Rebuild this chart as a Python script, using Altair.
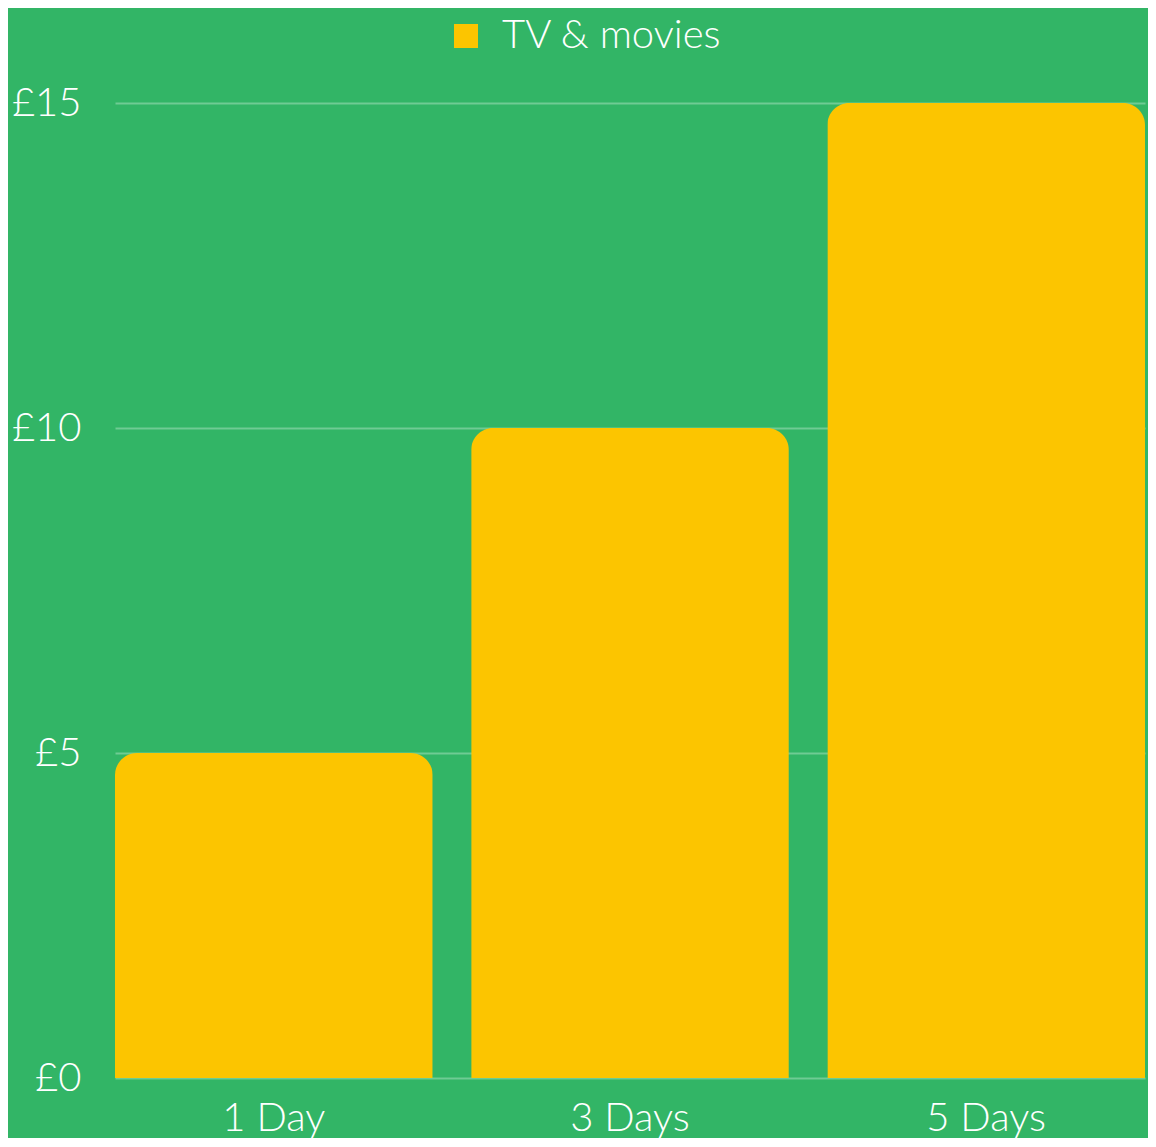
import altair as alt
import pandas as pd

categories = ["1 Day", "3 Days", "5 Days"]
values = [5, 10, 15]
series = ["TV & movies"] * 3
y_ticks = [0, 5, 10, 15]

df = pd.DataFrame({"period": categories, "price": values, "series": series})

FONT = "Lato"

chart = alt.Chart(df).mark_bar(
    cornerRadiusTopLeft=22, cornerRadiusTopRight=22
).encode(
    x=alt.X("period:N", sort=categories,
            scale=alt.Scale(paddingInner=0.108, paddingOuter=0),
            axis=alt.Axis(title=None, labelAngle=0, domain=False, ticks=False,
                          labelFontSize=40, labelColor="white", labelFont=FONT,
                          labelFontWeight=300, labelBaseline="alphabetic",
                          labelPadding=52, grid=False)),
    y=alt.Y("price:Q", scale=alt.Scale(domain=[0, 15], nice=False),
            axis=alt.Axis(title=None, values=y_ticks, domain=False, ticks=False,
                          labelExpr="'£' + datum.value",
                          labelFontSize=40, labelColor="white", labelFont=FONT,
                          labelFontWeight=300, labelPadding=34,
                          gridColor="white", gridOpacity=0.3, gridWidth=2)),
    color=alt.Color("series:N", scale=alt.Scale(range=["#FCC500"]),
                    legend=alt.Legend(title=None, orient="none", legendX=331, legendY=-87,
                                      symbolType="square", symbolSize=576,
                                      symbolStrokeWidth=0, symbolOpacity=1,
                                      labelFontSize=40, labelColor="white",
                                      labelFont=FONT, labelFontWeight=300,
                                      labelOffset=16, labelLimit=0, padding=0)),
).properties(
    width=1030, height=975,
    padding={"left": 107, "top": 95, "right": 3, "bottom": 60},
    autosize=alt.AutoSizeParams(type="none"),
    background="#32B566",
).configure_view(strokeWidth=0)

chart.save("out.html", embed_options={"renderer": "svg", "actions": False})
